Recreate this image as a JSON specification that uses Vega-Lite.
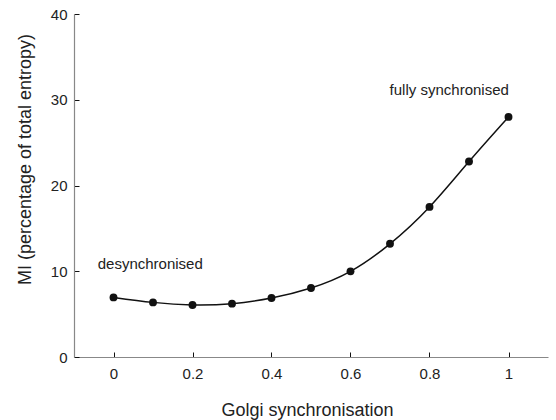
{
  "$schema": "https://vega.github.io/schema/vega-lite/v6.json",
  "width": 474,
  "height": 343,
  "autosize": "none",
  "padding": {"left": 74, "top": 14, "right": 8, "bottom": 63},
  "background": "white",
  "config": {
    "view": {"stroke": null},
    "font": "Liberation Sans",
    "axis": {"grid": false, "labelFont": "Liberation Sans", "titleFont": "Liberation Sans", "labelColor": "#222", "titleColor": "#222", "titleFontWeight": "normal", "domainColor": "#888", "domainWidth": 1.2, "tickColor": "#111", "tickWidth": 1, "tickSize": -5, "labelFontSize": 15, "titleFontSize": 18}
  },
  "datasets": {
    "pts": [
      {"g": 0.0, "mi": 6.95},
      {"g": 0.1, "mi": 6.37},
      {"g": 0.2, "mi": 6.07},
      {"g": 0.3, "mi": 6.22},
      {"g": 0.4, "mi": 6.88},
      {"g": 0.5, "mi": 8.05},
      {"g": 0.6, "mi": 9.99},
      {"g": 0.7, "mi": 13.2},
      {"g": 0.8, "mi": 17.5},
      {"g": 0.9, "mi": 22.8},
      {"g": 1.0, "mi": 28.0}
    ],
    "notes": [
      {"g": -0.04, "mi": 10.25, "label": "desynchronised"},
      {"g": 0.699, "mi": 30.5, "label": "fully synchronised"}
    ]
  },
  "layer": [
    {
      "data": {"name": "pts"},
      "mark": {"type": "line", "interpolate": "natural", "color": "#111", "strokeWidth": 1.5},
      "encoding": {
        "x": {"field": "g", "type": "quantitative", "scale": {"domain": [-0.1, 1.1], "nice": false}, "axis": {"values": [0, 0.2, 0.4, 0.6, 0.8, 1], "labelExpr": "datum.value == 0 ? '0' : datum.value == 1 ? '1' : format(datum.value, '.1f')", "labelPadding": 14, "title": "Golgi synchronisation", "titleX": 233, "titleY": 58, "titleBaseline": "alphabetic", "titleAlign": "center"}},
        "y": {"field": "mi", "type": "quantitative", "scale": {"domain": [0, 40], "nice": false}, "axis": {"values": [0, 10, 20, 30, 40], "labelPadding": 12, "title": "MI (percentage of total entropy)", "titleX": -49, "titleY": 145, "titleAngle": -90, "titleAlign": "center", "titleBaseline": "middle"}}
      }
    },
    {
      "data": {"name": "pts"},
      "mark": {"type": "circle", "color": "#111", "opacity": 1, "size": 62},
      "encoding": {
        "x": {"field": "g", "type": "quantitative"},
        "y": {"field": "mi", "type": "quantitative"}
      }
    },
    {
      "data": {"name": "notes"},
      "mark": {"type": "text", "align": "left", "baseline": "alphabetic", "fontSize": 15, "color": "#222", "font": "Liberation Sans"},
      "encoding": {
        "x": {"field": "g", "type": "quantitative"},
        "y": {"field": "mi", "type": "quantitative"},
        "text": {"field": "label"}
      }
    }
  ]
}
